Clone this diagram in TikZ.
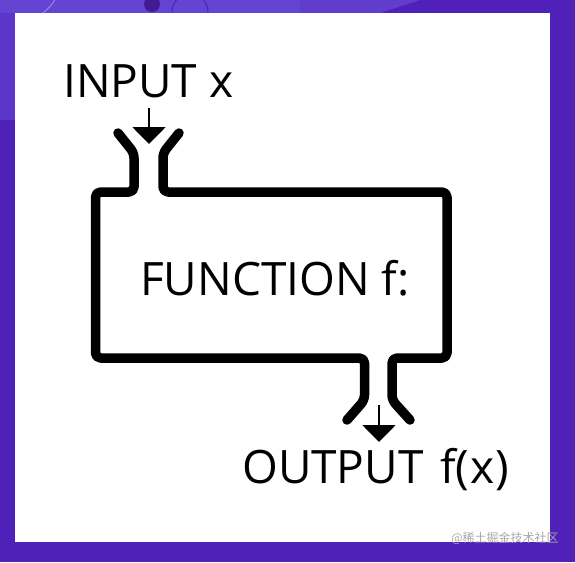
\documentclass[tikz,border=0pt]{standalone}
\usepackage{fontspec}
\setmainfont{Open Sans}
\newfontfamily\cjk{Noto Sans CJK SC}
\usetikzlibrary{arrows.meta}
\definecolor{bgpurple}{HTML}{5021B9}
\definecolor{bglight}{HTML}{6444D2}
\definecolor{wmgray}{HTML}{A8A8A8}
\tikzset{
  wall/.style={line width=9.5pt, line cap=round, line join=round, rounded corners=5pt},
  flowarrow/.style={line width=2pt, -{Triangle[width=33pt,length=17pt]}},
  label/.style={font=\fontsize{46}{50}\selectfont, inner sep=0pt, anchor=base west},
}
\begin{document}
\begin{tikzpicture}[x=1pt,y=-1pt]
\useasboundingbox (0,0) rectangle (575,562);
% background
\fill[bgpurple] (0,0) rectangle (575,562);
\begin{scope}
\clip (0,0) rectangle (575,13);
\fill[bglight] (0,0) rectangle (300,13);
\fill[bglight!80!bgpurple] (300,0) -- (420,0) -- (380,13) -- (300,13) -- cycle;
\draw[white!40!bglight, line width=0.8pt] (20,-20) circle (40);
\fill[bgpurple!80!black] (152,4) circle (8);
\draw[bgpurple, line width=1pt] (190,12) circle (18);
\end{scope}
\fill[bglight!60!bgpurple] (0,13) rectangle (15,120);
% white card
\fill[white] (15,13) rectangle (550,542);
% texts
\node[label] (inp) at (63,97) {INPUT x};
\node[label] (fun) at (140,295) {FUNCTION f:};
\node[label] (out) at (242,483) {OUTPUT\hspace{0.36em}f(\kern1pt x\kern1pt)};
% function box with funnels
\coordinate (il1) at (118,133);
\coordinate (il2) at (134,153);
\coordinate (ir1) at (179,133);
\coordinate (ir2) at (163,153);
\coordinate (ol1) at (347,420);
\coordinate (ol2) at (364.5,400);
\coordinate (or1) at (410,420);
\coordinate (or2) at (392,400);
\draw[wall] (il1) -- (il2) -- (134,192) -- (95.5,192) -- (95.5,358) -- (364.5,358) -- (ol2) -- (ol1);
\draw[wall] (ir1) -- (ir2) -- (163,192) -- (447,192) -- (447,358) -- (392,358) -- (or2) -- (or1);
% arrows
\coordinate (ia) at (149,108);
\coordinate (ib) at (149,144);
\coordinate (oa) at (379,405);
\coordinate (ob) at (379,442);
\draw[flowarrow] (ia) -- (ib);
\draw[flowarrow] (oa) -- (ob);
% watermark
\node[text=wmgray, font=\cjk\fontsize{12}{14}\selectfont, inner sep=0pt] (wm) at (505,538) {@稀土掘金技术社区};
\end{tikzpicture}
\end{document}
